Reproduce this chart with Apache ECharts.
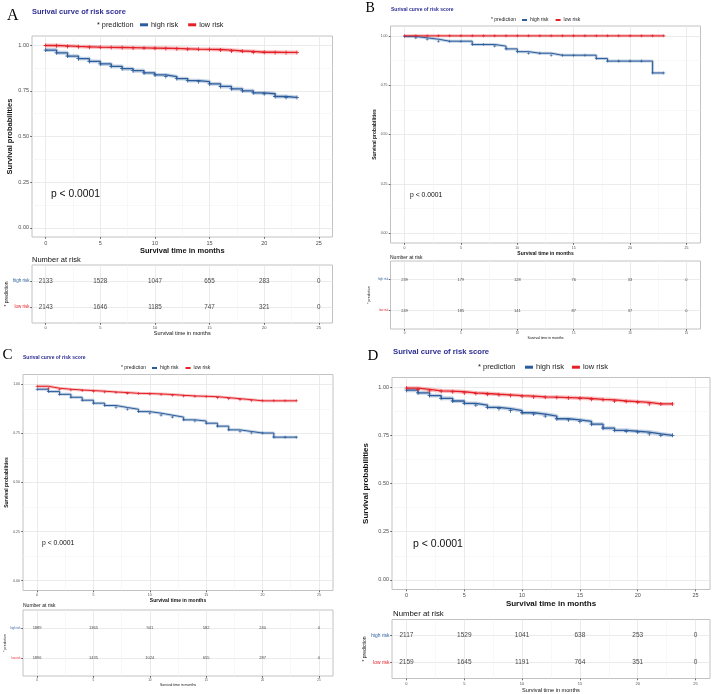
<!DOCTYPE html>
<html>
<head>
<meta charset="utf-8">
<script src="https://cdn.jsdelivr.net/npm/echarts@6/dist/echarts.min.js"></script>
<style>
  html, body { margin: 0; padding: 0; background: #fff; }
  #main { width: 712px; height: 694px; }
</style>
</head>
<body>
<div id="main"></div>
<script>
// survival estimates, one value per month (0..23)
const months = [0, 1, 2, 3, 4, 5, 6, 7, 8, 9, 10, 11, 12, 13, 14, 15, 16, 17, 18, 19, 20, 21, 22, 23];
const groups = ['high risk', 'low risk'];
const timeTicks = [0, 5, 10, 15, 20, 25];
const timeMinor = [2.5, 7.5, 12.5, 17.5, 22.5];
const probTicks = [0, 0.25, 0.5, 0.75, 1];
const probMinor = [0.125, 0.375, 0.625, 0.875];
const panelLetters = ['A', 'B', 'C', 'D'];

const survA_high = [0.973, 0.958, 0.940, 0.926, 0.911, 0.897, 0.884, 0.871, 0.860, 0.848, 0.837, 0.828, 0.817, 0.806, 0.800, 0.788, 0.774, 0.761, 0.750, 0.739, 0.734, 0.719, 0.714, 0.714];
const survA_low = [0.998, 0.996, 0.993, 0.991, 0.989, 0.988, 0.987, 0.986, 0.985, 0.984, 0.983, 0.982, 0.980, 0.978, 0.977, 0.976, 0.973, 0.968, 0.966, 0.961, 0.961, 0.960, 0.960, 0.960];
const survB_high = [0.997, 0.990, 0.983, 0.973, 0.973, 0.973, 0.956, 0.956, 0.948, 0.934, 0.920, 0.912, 0.912, 0.902, 0.902, 0.902, 0.902, 0.885, 0.872, 0.872, 0.872, 0.872, 0.812, 0.812];
const survB_low = [1, 1, 1, 1, 1, 1, 1, 1, 1, 1, 1, 1, 1, 1, 1, 1, 1, 1, 1, 1, 1, 1, 1, 1];
const survC_high = [0.975, 0.963, 0.949, 0.934, 0.919, 0.904, 0.892, 0.882, 0.873, 0.861, 0.853, 0.843, 0.833, 0.819, 0.813, 0.802, 0.787, 0.768, 0.760, 0.752, 0.752, 0.731, 0.731, 0.731];
const survC_low = [0.990, 0.980, 0.975, 0.971, 0.968, 0.965, 0.961, 0.958, 0.954, 0.953, 0.951, 0.948, 0.944, 0.941, 0.939, 0.937, 0.932, 0.927, 0.922, 0.916, 0.916, 0.916, 0.916, 0.916];
const survD_high = [0.984, 0.970, 0.956, 0.942, 0.928, 0.916, 0.907, 0.895, 0.888, 0.878, 0.867, 0.860, 0.850, 0.836, 0.830, 0.822, 0.808, 0.787, 0.776, 0.771, 0.767, 0.757, 0.750, 0.750];
const survD_low = [0.995, 0.988, 0.981, 0.979, 0.976, 0.970, 0.967, 0.963, 0.960, 0.956, 0.953, 0.949, 0.948, 0.946, 0.944, 0.941, 0.937, 0.934, 0.928, 0.925, 0.921, 0.913, 0.913, 0.913];

// number at risk at timeTicks
const riskA_high = [2133, 1528, 1047, 655, 283, 0];
const riskA_low = [2143, 1646, 1185, 747, 321, 0];
const riskB_high = [239, 179, 128, 76, 33, 0];
const riskB_low = [249, 185, 141, 87, 37, 0];
const riskC_high = [1889, 1365, 941, 582, 240, 0];
const riskC_low = [1896, 1435, 1024, 655, 287, 0];
const riskD_high = [2117, 1529, 1041, 638, 253, 0];
const riskD_low = [2159, 1645, 1191, 764, 351, 0];

const panelSurv = [[survA_high, survA_low], [survB_high, survB_low], [survC_high, survC_low], [survD_high, survD_low]];
const panelRisk = [[riskA_high, riskA_low], [riskB_high, riskB_low], [riskC_high, riskC_low], [riskD_high, riskD_low]];

const groupColors = ['#2b5c9c', '#e41f26'];
const TITLE_COLOR = '#2e2e93';
const MAJOR = '#e6e6e6';
const MINOR = '#f3f3f3';
const BORDER = '#c2c2c2';
const SANS = 'Liberation Sans';
const PLUS = 'path://M4,0H6V4H10V6H6V10H4V6H0V4H4Z';

// geometry per panel (pixels)
const layout = [
  { plot: [32, 36, 300.5, 201], table: [32, 265, 300.5, 58], letter: [7, 7.5, 16], title: [32, 8.2, 7.5],
    pred: [97, 21.3], legend: [140, 21.3, 8, 3, 10], legendFont: 7.3, pval: [51, 188.8, 10.3], nar: [32, 256.2, 7.5],
    tick: 5.5, axisTitle: 7.5, yGap: 18, xGap: 4, lw: 1.3, sym: 4, risk: 6.3, row: 4.5,
    predFont: 5, predGap: 19.5, tTick: 4, tTitle: 5.5, tGap: 7 },
  { plot: [390.5, 26, 310, 217], table: [390.5, 261, 310, 68], letter: [365.5, 1.7, 14], title: [391, 7.5, 5],
    pred: [491, 17.5], legend: [522, 17.5, 5, 2, 7], legendFont: 5, pval: [410, 191.6, 6.8], nar: [390, 255.5, 5],
    tick: 3.5, axisTitle: 5, yGap: 12, xGap: 2, lw: 1, sym: 3, risk: 4, row: 2.7,
    predFont: 3.5, predGap: 19, tTick: 3, tTitle: 3.5, tGap: 3.8 },
  { plot: [23, 374.5, 310, 216], table: [23, 610, 310, 66], letter: [2.5, 347.8, 15], title: [23, 355.5, 5],
    pred: [121, 365.5], legend: [152, 365.5, 5, 2, 7], legendFont: 5, pval: [42, 539.9, 6.8], nar: [23, 603.5, 5],
    tick: 3.5, axisTitle: 5, yGap: 12, xGap: 5, lw: 1, sym: 3, risk: 4, row: 2.7,
    predFont: 3.5, predGap: 13, tTick: 3, tTitle: 3.5, tGap: 4.3 },
  { plot: [392, 377.5, 318, 212], table: [392, 619.5, 318, 59], letter: [367.5, 348.5, 15], title: [393, 348.2, 7.7],
    pred: [478, 363.2], legend: [525, 363.2, 8, 3, 8], legendFont: 7.5, pval: [413, 539, 10.5], nar: [393, 610.1, 7.8],
    tick: 5.5, axisTitle: 8, yGap: 22, xGap: 8, lw: 1.3, sym: 4, risk: 6.5, row: 4.9,
    predFont: 5, predGap: 21, tTick: 4, tTitle: 5.6, tGap: 8.5 }
];

const option = {
  animation: false,
  backgroundColor: '#ffffff',
  textStyle: { fontFamily: SANS },
  grid: [], xAxis: [], yAxis: [], series: [], title: [], legend: []
};

const noLine = { show: false, onZero: false };

function gridOf(r) {
  return { left: r[0], top: r[1], width: r[2], height: r[3], show: true, borderColor: BORDER, borderWidth: 1,
           backgroundColor: 'transparent', containLabel: false, outerBoundsMode: 'none' };
}

function xPair(gi, fs, name, nameSize, nameGap, bold) {
  return [
    { gridIndex: gi, type: 'value', position: 'bottom', min: -1.25, max: 26.25,
      axisLine: noLine,
      axisTick: { show: true, customValues: timeTicks, length: 1.8, lineStyle: { color: '#444', width: 0.8 } },
      axisLabel: { customValues: timeTicks, fontSize: fs, color: '#4d4d4d', margin: 3 },
      splitLine: { show: true, lineStyle: { color: MAJOR, width: 0.8 } },
      name: name, nameLocation: 'middle', nameGap: nameGap,
      nameTextStyle: { fontSize: nameSize, fontWeight: bold ? 'bold' : 'normal', color: '#111' } },
    { gridIndex: gi, type: 'value', position: 'bottom', min: -1.25, max: 26.25,
      axisLine: noLine, axisTick: { show: false, customValues: timeMinor }, axisLabel: { show: false },
      splitLine: { show: true, lineStyle: { color: MINOR, width: 0.6 } } }
  ];
}

layout.forEach((L, p) => {
  const gPlot = p * 2, gTab = p * 2 + 1;
  option.grid.push(gridOf(L.plot), gridOf(L.table));

  // plot axes
  option.xAxis.push(...xPair(gPlot, L.tick, 'Survival time in months', L.axisTitle, L.xGap, true));
  option.yAxis.push(
    { gridIndex: gPlot, type: 'value', position: 'left', min: -0.05, max: 1.05,
      axisLine: noLine,
      axisTick: { show: true, customValues: probTicks, length: 1.8, lineStyle: { color: '#444', width: 0.8 } },
      axisLabel: { customValues: probTicks, fontSize: L.tick, color: '#4d4d4d', margin: 3,
                   formatter: v => Number(v).toFixed(2) },
      splitLine: { show: true, lineStyle: { color: MAJOR, width: 0.8 } },
      name: 'Survival probabilities', nameLocation: 'middle', nameGap: L.yGap,
      nameTextStyle: { fontSize: L.axisTitle, fontWeight: 'bold', color: '#111' } },
    { gridIndex: gPlot, type: 'value', position: 'left', min: -0.05, max: 1.05,
      axisLine: noLine, axisTick: { show: false, customValues: probMinor }, axisLabel: { show: false },
      splitLine: { show: true, lineStyle: { color: MINOR, width: 0.6 } } }
  );

  // table axes
  option.xAxis.push(...xPair(gTab, L.tTick, 'Survival time in months', L.tTitle, L.tGap, false));
  const rowPos = groups.map((g, i) => groups.length - i);
  option.yAxis.push(
    { gridIndex: gTab, type: 'value', position: 'left', min: 0.4, max: 2.6,
      axisLine: noLine,
      axisTick: { show: true, customValues: rowPos, length: 1.8, lineStyle: { color: '#444', width: 0.8 } },
      axisLabel: { customValues: rowPos, fontSize: L.row, margin: 2.5,
                   formatter: v => groups[groups.length - Math.round(Number(v))],
                   color: v => groupColors[groups.length - Math.round(Number(v))] },
      splitLine: { show: true, lineStyle: { color: MAJOR, width: 0.8 } },
      name: '* prediction', nameLocation: 'middle', nameGap: L.predGap,
      nameTextStyle: { fontSize: L.predFont, color: '#111' } },
    { gridIndex: gTab, type: 'value', position: 'left', min: 0.4, max: 2.6, show: false,
      axisLine: noLine, splitLine: { show: false } }
  );

  // survival curves: faint band, then step line with censor marks
  groups.forEach((g, gi) => {
    const pts = months.map((t, i) => [t, panelSurv[p][gi][i]]);
    option.series.push({
      name: g + ' band', type: 'line', step: 'end', xAxisIndex: gPlot * 2, yAxisIndex: gPlot * 2,
      data: pts, symbol: 'none', silent: true, z: 1,
      lineStyle: { color: groupColors[gi], width: L.lw * 3, opacity: 0.28 }
    });
  });
  groups.forEach((g, gi) => {
    const pts = months.map((t, i) => [t, panelSurv[p][gi][i]]);
    option.series.push({
      name: g, type: 'line', step: 'end', xAxisIndex: gPlot * 2, yAxisIndex: gPlot * 2,
      data: pts, color: groupColors[gi], symbol: PLUS, symbolSize: L.sym, showSymbol: true, z: 3,
      lineStyle: { color: groupColors[gi], width: L.lw }, itemStyle: { color: groupColors[gi] },
      emphasis: { disabled: true }
    });
  });

  // number-at-risk table
  groups.forEach((g, gi) => {
    option.series.push({
      name: g + ' at risk', type: 'scatter', xAxisIndex: gTab * 2, yAxisIndex: gTab * 2,
      data: timeTicks.map((t, i) => [t, groups.length - gi, panelRisk[p][gi][i]]),
      symbolSize: 0, silent: true,
      label: { show: true, position: 'inside', formatter: d => String(d.value[2]),
               fontSize: L.risk, color: '#111' }
    });
  });

  // texts
  option.title.push(
    { text: panelLetters[p], left: L.letter[0], top: L.letter[1], padding: 0,
      textStyle: { fontFamily: 'Liberation Serif', fontSize: L.letter[2], fontWeight: 'normal', color: '#000' } },
    { text: 'Surival curve of risk score', left: L.title[0], top: L.title[1], padding: 0,
      textStyle: { fontFamily: SANS, fontSize: L.title[2], fontWeight: 'bold', color: TITLE_COLOR } },
    { text: '* prediction', left: L.pred[0], top: L.pred[1], padding: 0,
      textStyle: { fontFamily: SANS, fontSize: L.legendFont, fontWeight: 'normal', color: '#222' } },
    { text: 'p < 0.0001', left: L.pval[0], top: L.pval[1], padding: 0,
      textStyle: { fontFamily: SANS, fontSize: L.pval[2], fontWeight: 'normal', color: '#111' } },
    { text: 'Number at risk', left: L.nar[0], top: L.nar[1], padding: 0,
      textStyle: { fontFamily: SANS, fontSize: L.nar[2], fontWeight: 'normal', color: '#111' } }
  );

  option.legend.push({
    data: groups, left: L.legend[0], top: L.legend[1], padding: 0, orient: 'horizontal',
    icon: 'rect', itemWidth: L.legend[2], itemHeight: L.legend[3], itemGap: L.legend[4],
    selectedMode: false, itemStyle: { borderWidth: 0 },
    textStyle: { fontFamily: SANS, fontSize: L.legendFont, color: '#222', padding: [0, 0, 0, -2] }
  });
});

const chart = echarts.init(document.getElementById('main'), null, { renderer: 'canvas' });
chart.setOption(option);
</script>
</body>
</html>
